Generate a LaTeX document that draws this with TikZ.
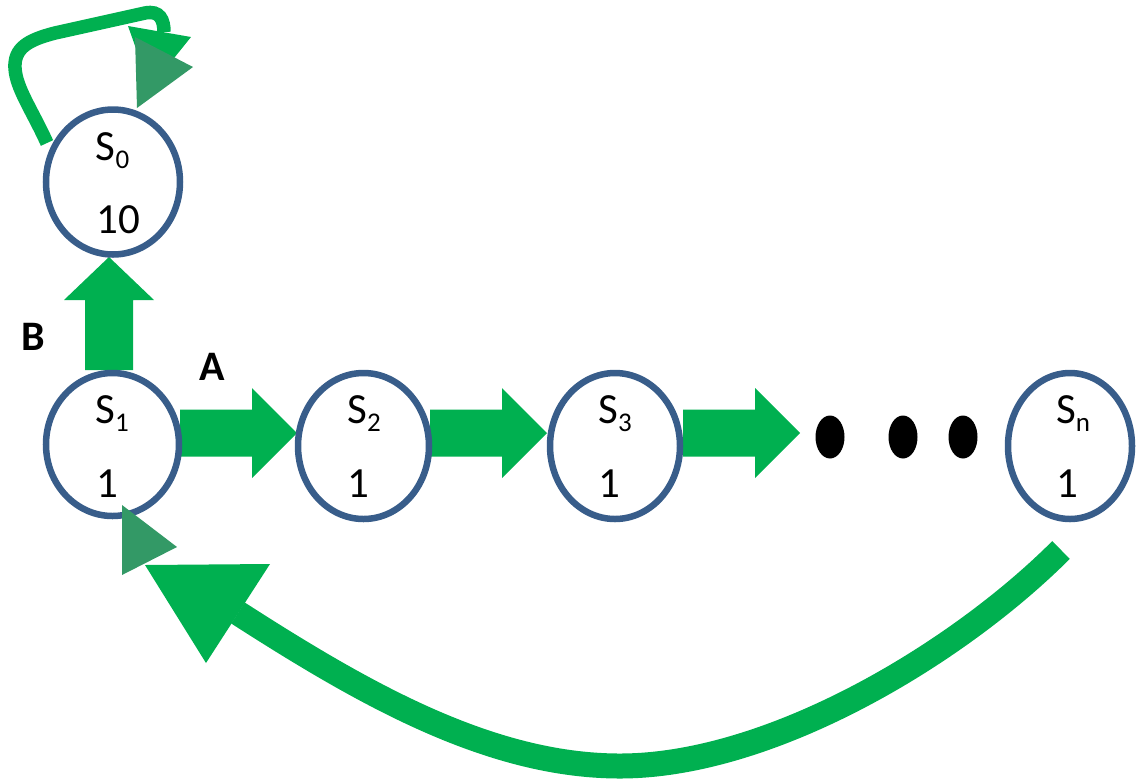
\documentclass[tikz,border=0pt]{standalone}
\usepackage{fontspec}
\setmainfont{Carlito}
\usetikzlibrary{shapes.geometric,calc}
\definecolor{arrowgreen}{RGB}{0,176,80}
\definecolor{tipgreen}{RGB}{51,153,102}
\definecolor{ringblue}{RGB}{56,93,138}
\newcommand\statesub[1]{\raisebox{-8.5pt}{\fontsize{27}{30}\selectfont #1}}
\begin{document}
\begin{tikzpicture}[x=1pt,y=-1pt,
  state/.style={ellipse, draw=ringblue, line width=6.5pt, inner sep=0pt, fill=white},
  blackdot/.style={ellipse, fill=black, inner sep=0pt, minimum width=29pt, minimum height=43pt},
  lbl/.style={inner sep=0pt, anchor=base, font=\fontsize{43}{50}\selectfont},
  edgelbl/.style={inner sep=0pt, anchor=base, font=\fontsize{42}{50}\selectfont\bfseries},
  blockarrow/.style={fill=arrowgreen},
  tipfill/.style={fill=tipgreen},
  flow/.style={draw=arrowgreen},
]
\useasboundingbox (0,0) rectangle (1140,780);

% state rings (positions)
\coordinate (p0) at (113,182);
\coordinate (p1) at (112.5,444.5);
\coordinate (p2) at (363.5,446);
\coordinate (p3) at (615,446);
\coordinate (pn) at (1070,446);

% block arrows (drawn below the rings)
\coordinate (a12) at (180,433);
\coordinate (a23) at (430,433);
\coordinate (a3d) at (683,433);
\coordinate (a10) at (109,370);
\foreach \c in {a12,a23,a3d}{
  \fill[blockarrow, shift={(\c)}] (0,-23.5) -- (72,-23.5) -- (72,-45) -- (117,0) -- (72,45) -- (72,23.5) -- (0,23.5) -- cycle;
}
\fill[blockarrow, shift={(a10)}] (-24,0) -- (-24,-70) -- (-45,-70) -- (0,-113) -- (45,-70) -- (24,-70) -- (24,0) -- cycle;

\node[state, minimum width=134pt, minimum height=145pt] (s0) at (p0) {};
\node[state, minimum width=133pt, minimum height=143pt] (s1) at (p1) {};
\node[state, minimum width=131pt, minimum height=146pt] (s2) at (p2) {};
\node[state, minimum width=130pt, minimum height=146pt] (s3) at (p3) {};
\node[state, minimum width=124pt, minimum height=146pt] (sn) at (pn) {};

% texts
\node[lbl] (t0a) at (112.5,160) {S\statesub{0}};
\node[lbl] (t0b) at (118,233) {10};
\node[lbl] (t1a) at (112,423) {S\statesub{1}};
\node[lbl] (t1b) at (107,497) {1};
\node[lbl] (t2a) at (364,423) {S\statesub{2}};
\node[lbl] (t2b) at (358,497) {1};
\node[lbl] (t3a) at (615,423) {S\statesub{3}};
\node[lbl] (t3b) at (609,497) {1};
\node[lbl] (tna) at (1073,423) {S\statesub{n}};
\node[lbl] (tnb) at (1067,497) {1};

\node[edgelbl] (lb) at (33,350) {B};
\node[edgelbl] (la) at (212,380) {A};

% dots
\node[blackdot] (d1) at (830,437) {};
\node[blackdot] (d2) at (903,437) {};
\node[blackdot] (d3) at (963,437) {};

% self loop on S0
\coordinate (loopstart) at (47,143);
\coordinate (loopend) at (164,32);
\draw[flow, line width=13.5pt] (loopstart) .. controls (32,110) and (16,88) .. (15,68) .. controls (14,48) and (28,40) .. (55,33) -- (145,13) .. controls (160,10) and (164,20) .. (loopend);
\fill[fill=arrowgreen] (128,26) -- (191,37) -- (150,88) -- cycle;
\fill[tipfill] (135,37) -- (193,67) -- (137,108) -- cycle;

% return arrow Sn -> S1
\coordinate (retstart) at (1061,550);
\coordinate (retbottom) at (620,766);
\coordinate (retend) at (238,613);
\draw[flow, line width=25pt] (retstart) .. controls (956,655) and (770,766) .. (retbottom) .. controls (490,766) and (364,694) .. (retend);
\fill[fill=arrowgreen] (145,565) -- (270,564) -- (206,663) -- cycle;
\fill[tipfill] (122,505) -- (177,547) -- (122,575) -- cycle;
\end{tikzpicture}
\end{document}
